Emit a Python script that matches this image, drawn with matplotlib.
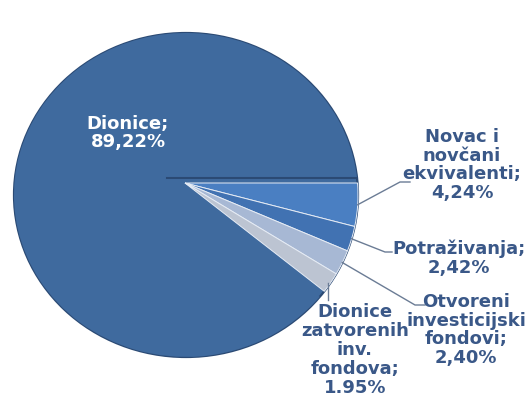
import numpy as np
import matplotlib
matplotlib.use('Agg')
import matplotlib.pyplot as plt
import matplotlib.transforms as mtransforms
from matplotlib.patches import Ellipse

# Podaci (redoslijed u smjeru kazaljke od 0 stupnjeva)
names = ['Novac i\nnovčani\nekvivalenti;', 'Potraživanja;', 'Otvoreni\ninvesticijski\nfondovi;',
         'Dionice\nzatvorenih\ninv.\nfondova;', 'Dionice;']
shares = [4.24, 2.42, 2.40, 1.95, 89.22]
share_text = ['4,24%', '2,42%', '2,40%', '1.95%', '89,22%']

colors = ['#4a7fc2', '#4172b2', '#a7b8d4', '#bcc4d2', '#3f6a9e']
text_color = '#3a5888'

# elipsa (pikseli, y prema gore)
CX, CY, RX, RY = 186, 206, 172, 162


class Warp(mtransforms.Transform):
    # jedinicni krug -> elipsa s pomaknutim vrhom (lazna perspektiva)
    input_dims = 2
    output_dims = 2
    is_separable = False
    has_inverse = False

    def __init__(self, vertex):
        super().__init__()
        self.vertex = np.array(vertex, float)

    def transform_non_affine(self, xy):
        xy = np.asarray(xy, float)
        rho = np.hypot(xy[:, 0], xy[:, 1])
        th = np.arctan2(xy[:, 1], xy[:, 0])
        d = np.column_stack([np.cos(th) * RX, np.sin(th) * RY])
        p = (self.vertex - [CX, CY]) / [RX, RY]
        q = d / [RX, RY]
        qq = (q ** 2).sum(1)
        pq = (q * p).sum(1)
        pp = (p ** 2).sum()
        t = (-pq + np.sqrt(pq ** 2 - qq * (pp - 1))) / qq
        edge = self.vertex + t[:, None] * d
        return self.vertex + rho[:, None] * (edge - self.vertex)


fig = plt.figure(figsize=(5.28, 4.01), dpi=100)
ax = fig.add_axes([0, 0, 1, 1])

wedges, _ = ax.pie(shares, colors=colors, startangle=0, counterclock=False,
                   radius=1, center=(0, 0))
ax.set_aspect('auto')
ax.set_xlim(0, 528)
ax.set_ylim(0, 401)
ax.axis('off')

# podloga (tijelo pite) s tamnijim rubom
ax.add_patch(Ellipse((CX, CY), 2 * RX, 2 * RY, facecolor=colors[-1],
                     edgecolor='#2b4a74', lw=1.6, zorder=0))

big_vertex = (167, 223)
small_vertex = (185, 218)
for i, w in enumerate(wedges):
    if i == len(wedges) - 1:
        w.set_transform(Warp(big_vertex) + ax.transData)
        w.set_edgecolor('none')
        w.set_zorder(1)
    else:
        w.set_transform(Warp(small_vertex) + ax.transData)
        w.set_edgecolor('#e6ecf5')
        w.set_linewidth(0.7)
        w.set_zorder(2)

# tamna linija reza
ax.plot([big_vertex[0], CX + RX * 0.995], [big_vertex[1], big_vertex[1]],
        color='#2b4a74', lw=1.5, zorder=1.5)

# glavni natpis
ax.text(128, 401 - 133, f'{names[-1]}\n{share_text[-1]}', color='white', fontsize=13,
        fontweight='bold', ha='center', va='center', linespacing=0.98, zorder=5)

# natpisi malih udjela i linije
label_pos = [(462, 165), (459, 258), (466, 330), (355, 350)]
elbows = [[(400, 182), (410, 182)], [(385, 252), (392, 252)],
          [(415, 305), (425, 305)], [(328, 300)]]
warp_small = Warp(small_vertex)
for i in range(4):
    mid = np.deg2rad((wedges[i].theta1 + wedges[i].theta2) / 2)
    start = warp_small.transform(np.array([[np.cos(mid), np.sin(mid)]]))[0]
    pts = [start] + [(x, 401 - y) for x, y in elbows[i]]
    if i == 3:
        pts = [(elbows[i][0][0], start[1])] + [(x, 401 - y) for x, y in elbows[i]]
    pts = np.array(pts)
    ax.plot(pts[:, 0], pts[:, 1], color='#6b7c95', lw=1, zorder=4)
    ax.text(label_pos[i][0], 401 - label_pos[i][1], f'{names[i]}\n{share_text[i]}',
            color=text_color, fontsize=13, fontweight='bold', ha='center', va='center',
            linespacing=1.06, zorder=5)

fig.savefig('out.png', dpi=100)
